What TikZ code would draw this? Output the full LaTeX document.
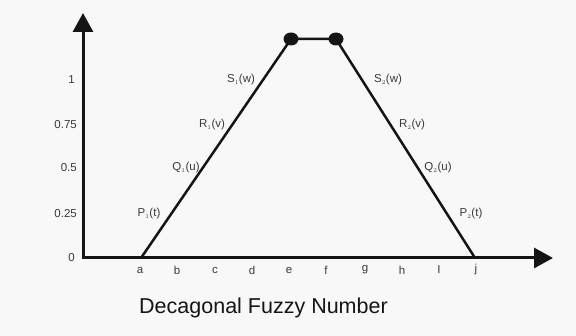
\documentclass[tikz,border=0pt]{standalone}
\usepackage{fontspec}
\setmainfont{Liberation Sans}
\usetikzlibrary{arrows.meta,shapes.geometric}
\definecolor{bg}{HTML}{F8F8F8}
\definecolor{ink}{HTML}{151515}
\definecolor{lbl}{HTML}{3A3A3A}
\tikzset{
  axis/.style={line width=3pt, draw=ink, -{Triangle[length=19pt,width=20pt]}},
  edge/.style={line width=2.5pt, draw=ink},
  dot/.style={ellipse, fill=ink, minimum width=15pt, minimum height=13pt, inner sep=0pt},
  tick/.style={font=\fontsize{11.5}{12}\selectfont, text=lbl, inner sep=0pt},
  flab/.style={font=\fontsize{11.5}{12}\selectfont, text=lbl, inner sep=0pt},
}
\begin{document}
\begin{tikzpicture}[x=1pt,y=-1pt]
\fill[bg] (0,0) rectangle (576,336);
\useasboundingbox (0,0) rectangle (576,336);
\coordinate (O) at (83,258);
\coordinate (Ytop) at (83,13);
\coordinate (Xend) at (553,258);
\coordinate (Ostart) at (81.5,258);
\draw[axis] (O) -- (Ytop);
\draw[axis] (Ostart) -- (Xend);
\coordinate (A) at (141,258);
\coordinate (J) at (475,258);
\node[dot] (L) at (291,39) {};
\node[dot] (R) at (336,39) {};
\draw[edge, line join=round] (A) -- (L.center) -- (R.center) -- (J);
% y labels
\node[tick, anchor=east] (y1) at (75,80) {1};
\node[tick, anchor=east] (y75) at (77,125) {0.75};
\node[tick, anchor=east] (y5) at (77,168) {0.5};
\node[tick, anchor=east] (y25) at (77,214) {0.25};
\node[tick, anchor=east] (y0) at (75,258) {0};
% x labels
\foreach \n/\x in {a/140,b/177,c/215,d/252,e/289,f/326,g/365,h/402,I/439,j/476}
  \node[tick] (x\n) at (\x,270) {\n};
% function labels
\node[flab] (P1) at (149,214) {P$_{\scriptscriptstyle 1}$(t)};
\node[flab] (Q1) at (186,168) {Q$_{\scriptscriptstyle 1}$(u)};
\node[flab] (R1) at (212,125) {R$_{\scriptscriptstyle 1}$(v)};
\node[flab] (S1) at (241,80) {S$_{\scriptscriptstyle 1}$(w)};
\node[flab] (S2) at (388,80) {S$_{\scriptscriptstyle 2}$(w)};
\node[flab] (R2) at (412,125) {R$_{\scriptscriptstyle 2}$(v)};
\node[flab] (Q2) at (438,168) {Q$_{\scriptscriptstyle 2}$(u)};
\node[flab] (P2) at (471,214) {P$_{\scriptscriptstyle 2}$(t)};
\node[font=\fontsize{21.5}{24}\selectfont, text=ink, inner sep=0pt] (title) at (263.5,308) {Decagonal Fuzzy Number};
\end{tikzpicture}
\end{document}
